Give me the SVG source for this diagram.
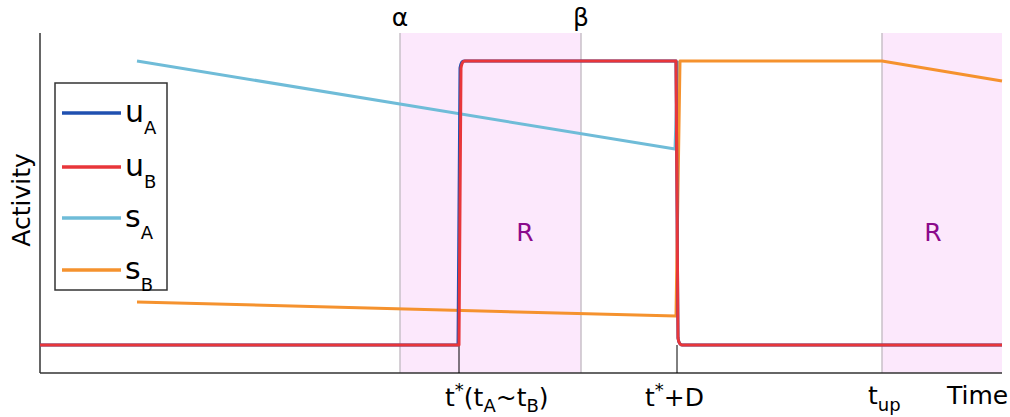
<svg xmlns="http://www.w3.org/2000/svg" width="1010" height="417" viewBox="0 0 1010 417">
<style>
text{font-family:"DejaVu Sans","Noto Sans",sans-serif;fill:#000}
.lbl{font-size:25px}
.lg{font-size:30px}
.sub{font-size:18px}
.sh{fill:#fce8fc}
.vl{stroke:#c8c0c8;stroke-width:1.5}
.c{fill:none;stroke-width:3;stroke-linejoin:round}
</style>
<rect width="1010" height="417" fill="#fff"/>
<g id="regions">
<rect class="sh" x="400" y="33" width="181" height="340"/>
<rect class="sh" x="882" y="33" width="120" height="340"/>
<line class="vl" x1="400" y1="33" x2="400" y2="373"/>
<line class="vl" x1="581" y1="33" x2="581" y2="373"/>
<line class="vl" x1="882" y1="33" x2="882" y2="373"/>
<text x="525" y="241" text-anchor="middle" style="font-size:25px;fill:#8b0a8b">R</text>
<text x="933" y="241" text-anchor="middle" style="font-size:25px;fill:#8b0a8b">R</text>
</g>
<g id="axes" stroke="#333" stroke-width="1.5">
<line x1="40" y1="33" x2="40" y2="373"/>
<line x1="40" y1="373" x2="1002" y2="373"/>
<line x1="459" y1="345" x2="459" y2="373" stroke="#000" stroke-width="1"/>
<line x1="677" y1="345" x2="677" y2="373" stroke="#000" stroke-width="1"/>
</g>
<g id="connectors">
<path class="c" stroke="#6fbcd8" d="M137,61 Q410,105 675,149 L678,61"/>
<path class="c" stroke="#f5922e" d="M137,302 L676,316 L680,61 L882,61 L1002,81"/>
<path class="c" stroke="#2050b0" d="M40,345 L458,345 L460,68 Q461,61 464,61 L676,61 L678,338 Q679,345 682,345 L1002,345"/>
<path class="c" stroke="#e8363a" d="M40,345 L459,345 L461,68 Q462,61 465,61 L676,61 L678,338 Q679,345 682,345 L1002,345"/>
</g>
<g id="legend">
<rect x="55" y="83" width="112" height="207" fill="#fff" stroke="#333" stroke-width="1.5"/>
<line x1="62" y1="113" x2="121" y2="113" stroke="#2050b0" stroke-width="3.5"/>
<line x1="62" y1="167" x2="121" y2="167" stroke="#e8363a" stroke-width="3.5"/>
<line x1="62" y1="218" x2="121" y2="218" stroke="#6fbcd8" stroke-width="3.5"/>
<line x1="62" y1="270" x2="121" y2="270" stroke="#f5922e" stroke-width="3.5"/>
<text x="125" y="122" class="lg">u<tspan class="sub" dy="12">A</tspan></text>
<text x="125" y="176" class="lg">u<tspan class="sub" dy="12">B</tspan></text>
<text x="125" y="227" class="lg">s<tspan class="sub" dy="12">A</tspan></text>
<text x="125" y="279" class="lg">s<tspan class="sub" dy="12">B</tspan></text>
</g>
<g id="labels">
<text x="400" y="26" class="lbl" text-anchor="middle">α</text>
<text x="581" y="26" class="lbl" text-anchor="middle">β</text>
<text x="30" y="200" class="lbl" text-anchor="middle" transform="rotate(-90 30 200)">Activity</text>
<text x="445" y="406" class="lbl">t<tspan class="sub" dy="-10">*</tspan><tspan dy="10">(t</tspan><tspan class="sub" dy="6">A</tspan><tspan dy="-6">~t</tspan><tspan class="sub" dy="6">B</tspan><tspan dy="-6">)</tspan></text>
<text x="645" y="406" class="lbl">t<tspan class="sub" dy="-10">*</tspan><tspan dy="10">+D</tspan></text>
<text x="868" y="404" class="lbl">t<tspan class="sub" dy="7">up</tspan></text>
<text x="947" y="404" class="lbl">Time</text>
</g>
</svg>
